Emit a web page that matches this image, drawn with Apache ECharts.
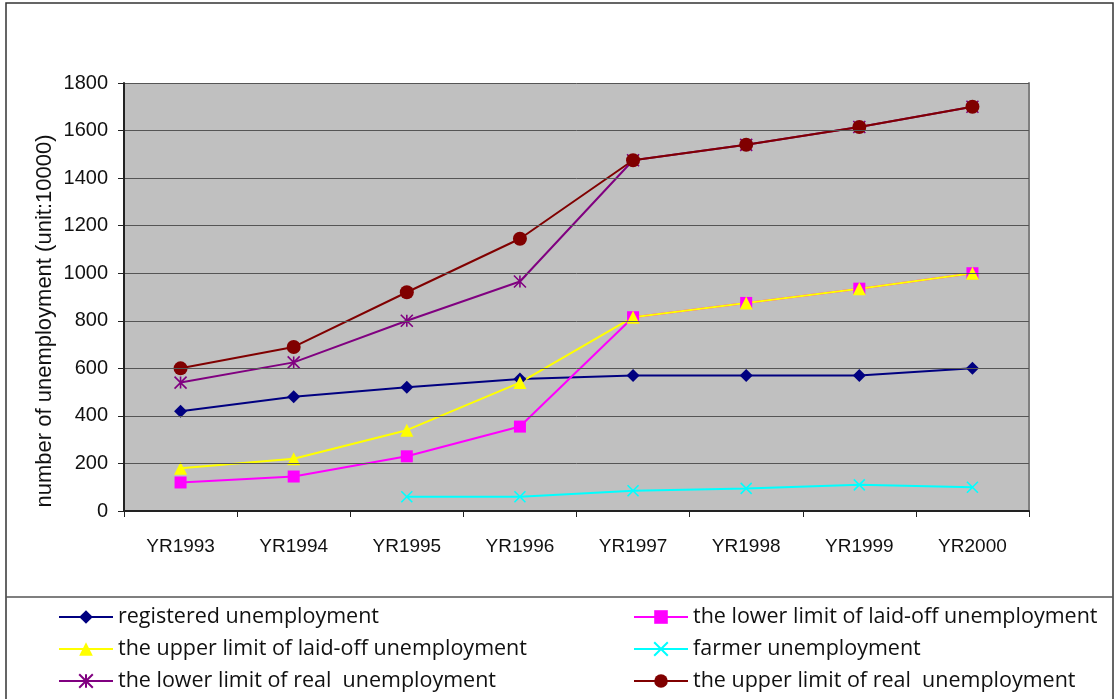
<!DOCTYPE html>
<html>
<head>
<meta charset="utf-8">
<script src="https://cdn.jsdelivr.net/npm/echarts@6/dist/echarts.min.js"></script>
<style>
html,body{margin:0;padding:0;background:#fff;}
#chart{width:1115px;height:699px;}
</style>
</head>
<body>
<div id="chart"></div>
<script>
var categories = ['YR1993','YR1994','YR1995','YR1996','YR1997','YR1998','YR1999','YR2000'];
var registered = [420, 480, 520, 555, 570, 570, 570, 600];
var laidOffLower = [120, 145, 230, 355, 815, 875, 935, 1000];
var laidOffUpper = [180, 220, 340, 540, 815, 875, 935, 1000];
var farmer = [null, null, 60, 60, 85, 95, 110, 100];
var realLower = [540, 625, 800, 965, 1475, 1540, 1615, 1700];
var realUpper = [600, 690, 920, 1145, 1475, 1540, 1615, 1700];
var seriesNames = [
  'registered unemployment',
  'the lower limit of laid-off unemployment',
  'the upper limit of laid-off unemployment',
  'farmer unemployment',
  'the lower limit of real  unemployment',
  'the upper limit of real  unemployment'
];
var yTicks = {min: 0, max: 1800, interval: 200};
var yTitle = 'number of unemployment (unit:10000)';

var starPath = 'path://M5 0L5 10M0 0L10 10M10 0L0 10';
var crossPath = 'path://M0 0L10 10M10 0L0 10';

function mk(name, data, color, symbol, size, stroke) {
  var s = {
    name: name,
    type: 'line',
    data: data,
    symbol: symbol,
    symbolSize: size,
    showAllSymbol: true,
    connectNulls: false,
    lineStyle: {color: color, width: 2},
    itemStyle: {color: color},
    emphasis: {disabled: true},
    animation: false
  };
  if (stroke) {
    s.itemStyle = {color: 'rgba(0,0,0,0)', borderColor: color, borderWidth: 1.6};
  }
  return s;
}

var chart = echarts.init(document.getElementById('chart'));
var legendText = {fontFamily: 'Open Sans', fontSize: 21.5, color: '#111'};
var legendBase = {orient: 'vertical', top: 601, padding: 5, itemWidth: 54, itemHeight: 17, itemGap: 10,
                  textStyle: legendText, selectedMode: false};
chart.setOption({
  animation: false,
  backgroundColor: '#fff',
  grid: {left: 124, top: 83, right: 86, bottom: 188, show: true,
         backgroundColor: '#c0c0c0', borderWidth: 0},
  legend: [
    Object.assign({data: [seriesNames[0], seriesNames[2], seriesNames[4]], left: 53}, legendBase),
    Object.assign({data: [seriesNames[1], seriesNames[3], seriesNames[5]], left: 628}, legendBase)
  ],
  xAxis: [{
    type: 'category', data: categories, boundaryGap: true, z: 5,
    axisLine: {lineStyle: {color: '#222', width: 2}},
    axisTick: {show: true, length: 6, interval: 0, lineStyle: {color: '#222', width: 1}},
    axisLabel: {margin: 26, fontFamily: 'Liberation Sans', fontSize: 19, color: '#111', interval: 0},
    splitLine: {show: false}
  }, {
    type: 'category', data: categories, position: 'top', boundaryGap: true,
    axisLine: {show: true, lineStyle: {color: '#808080', width: 2}},
    axisTick: {show: false}, axisLabel: {show: false}, splitLine: {show: false}
  }],
  yAxis: [{
    type: 'value', min: yTicks.min, max: yTicks.max, interval: yTicks.interval, z: 5,
    axisLine: {show: true, lineStyle: {color: '#222', width: 2}},
    axisTick: {show: true, length: 6, lineStyle: {color: '#222', width: 1}},
    axisLabel: {margin: 16, fontFamily: 'Liberation Sans', fontSize: 20, color: '#111',
                formatter: function (v) { return String(v); }},
    splitLine: {lineStyle: {color: '#555', width: 1}}
  }, {
    type: 'value', min: yTicks.min, max: yTicks.max, interval: yTicks.interval, position: 'right',
    axisLine: {show: true, lineStyle: {color: '#808080', width: 2}},
    axisTick: {show: false}, axisLabel: {show: false}, splitLine: {show: false}
  }],
  graphic: [
    {type: 'rect', shape: {x: 6, y: 3, width: 1107, height: 720}, silent: true, z: -10,
     style: {fill: 'none', stroke: '#333', lineWidth: 1.5}},
    {type: 'line', shape: {x1: 6, y1: 597, x2: 1113, y2: 597}, silent: true,
     style: {stroke: '#555', lineWidth: 1.5}},
    {type: 'text', x: 45, y: 321, rotation: Math.PI / 2, silent: true,
     style: {text: yTitle, fontFamily: 'Liberation Sans', fontSize: 22, fill: '#111',
             align: 'center', verticalAlign: 'middle'}}
  ],
  series: [
    mk(seriesNames[0], registered, '#000080', 'diamond', 13),
    mk(seriesNames[1], laidOffLower, '#FF00FF', 'rect', 12),
    mk(seriesNames[2], laidOffUpper, '#FFFF00', 'triangle', 13),
    mk(seriesNames[3], farmer, '#00FFFF', crossPath, 11, true),
    mk(seriesNames[4], realLower, '#800080', starPath, 12, true),
    mk(seriesNames[5], realUpper, '#800000', 'circle', 14)
  ]
});
</script>
</body>
</html>
